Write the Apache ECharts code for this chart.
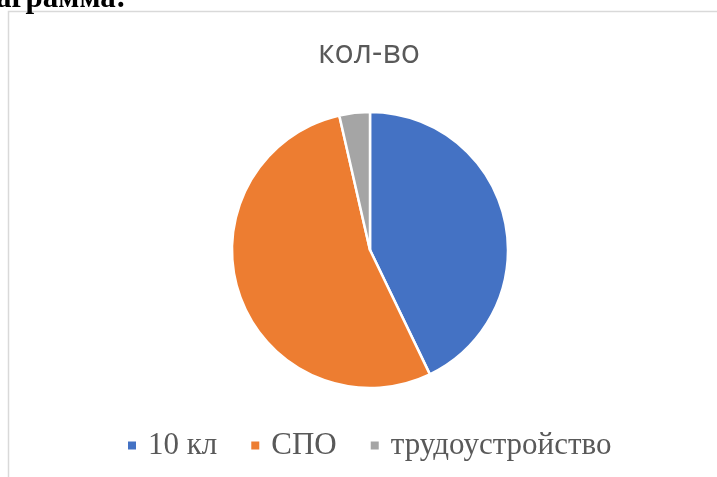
<!DOCTYPE html>
<html>
<head>
<meta charset="utf-8">
<script src="https://cdn.jsdelivr.net/npm/echarts@6/dist/echarts.min.js"></script>
<style>
  html, body { margin: 0; padding: 0; background: #fff; }
  #main { width: 717px; height: 477px; }
</style>
</head>
<body>
<div id="main"></div>
<script>
let categories = ['10 кл', 'СПО', 'трудоустройство'];
let counts = [12, 15, 1];
let colors = ['#4472C4', '#ED7D31', '#A5A5A5'];

let myChart = echarts.init(document.getElementById('main'));

let pieData = function () {
    let out = [];
    for (let i = 0; i < categories.length; i++) {
        out.push({ name: categories[i], value: counts[i], itemStyle: { color: colors[i] } });
    }
    return out;
};

let option = {
    backgroundColor: '#fff',
    animation: false,
    title: {
        text: 'кол-во',
        left: 313,
        top: 33,
        textStyle: { fontFamily: 'Open Sans', fontSize: 32, fontWeight: 'normal', color: '#595959' }
    },
    graphic: [
        {
            type: 'rect',
            shape: { x: 8.5, y: 11.5, width: 730, height: 480 },
            style: { fill: 'none', stroke: '#d9d9d9', lineWidth: 1.5 },
            silent: true
        },
        {
            // heading of the page, cut off at the top edge
            type: 'text',
            x: -4,
            y: -17,
            style: { text: 'аграмма:', font: 'bold 31px "Liberation Serif"', fill: '#000' },
            silent: true
        }
    ],
    legend: {
        data: categories,
        bottom: 11,
        left: 121,
        icon: 'rect',
        itemWidth: 10,
        itemHeight: 10,
        itemGap: 32,
        textStyle: { fontFamily: 'Liberation Serif', fontSize: 31, color: '#595959', padding: [0, 0, 0, 6] }
    },
    series: [{
        name: 'кол-во',
        type: 'pie',
        center: [370, 250],
        radius: 138,
        startAngle: 90,
        clockwise: true,
        label: { show: false },
        labelLine: { show: false },
        itemStyle: { borderColor: '#fff', borderWidth: 2.5 },
        data: pieData()
    }]
};

myChart.setOption(option);
</script>
</body>
</html>
